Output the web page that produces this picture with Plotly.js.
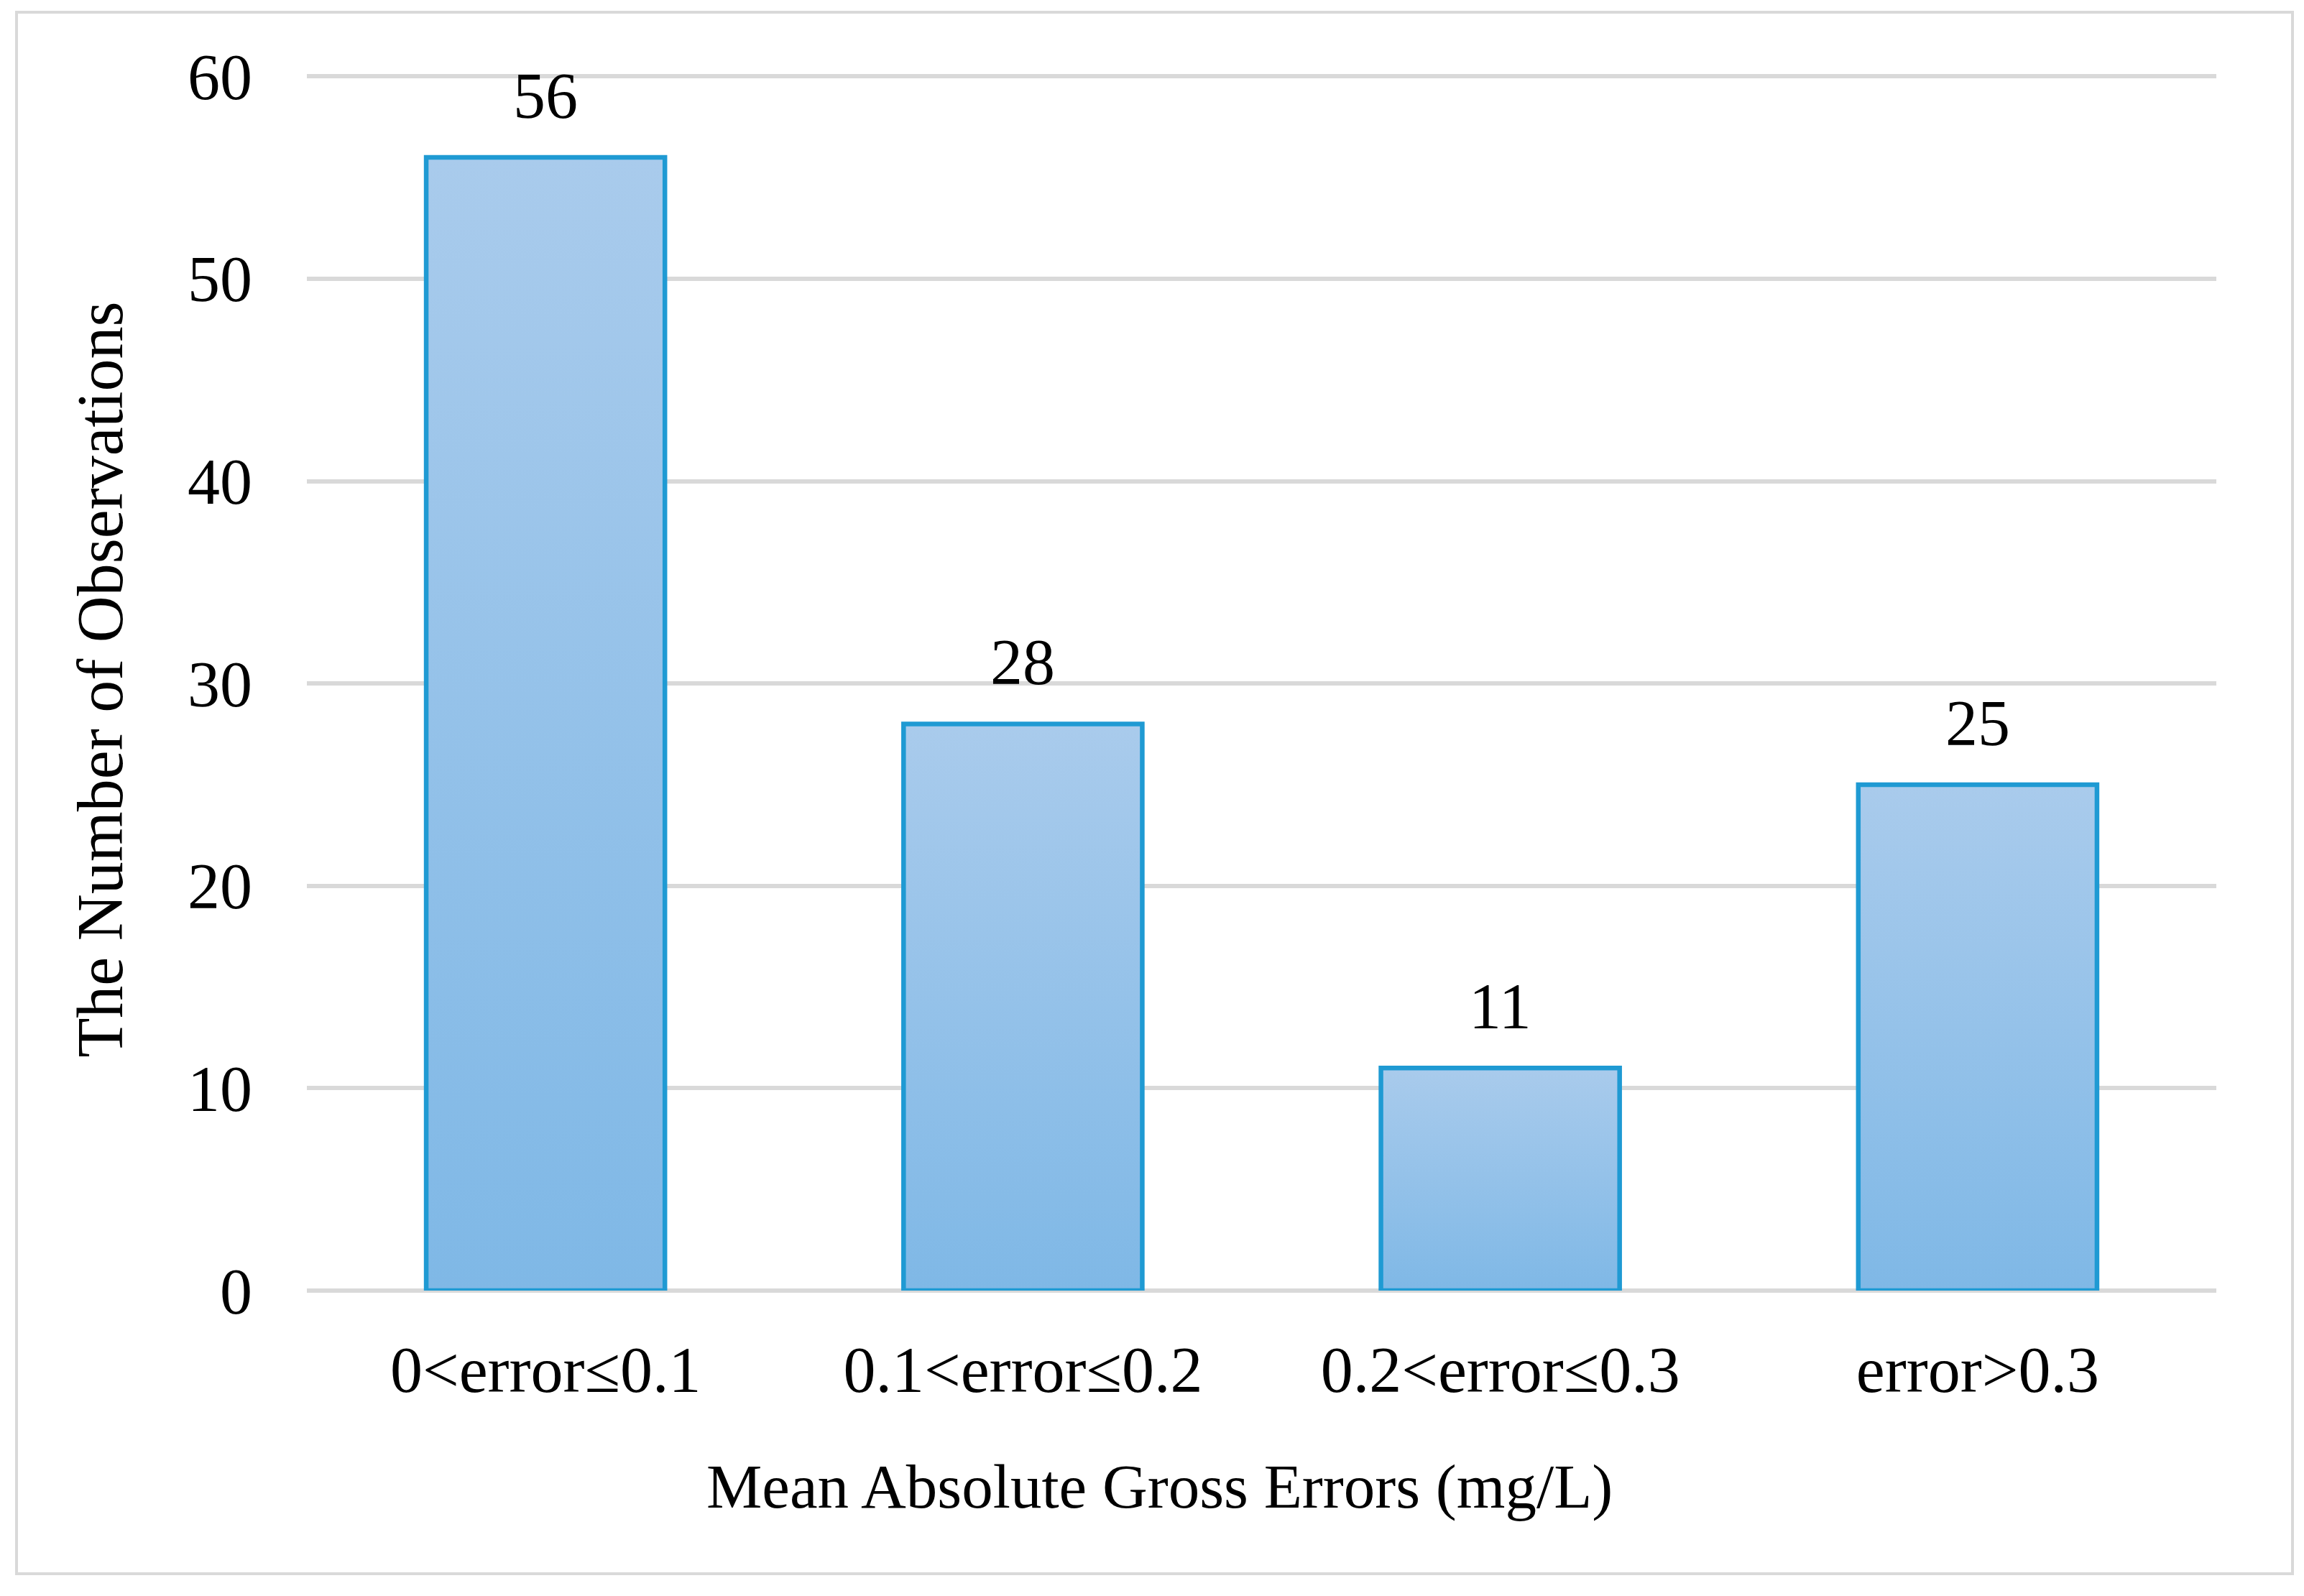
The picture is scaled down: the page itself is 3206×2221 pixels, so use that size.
<!DOCTYPE html>
<html>
<head>
<meta charset="utf-8">
<script src="https://cdn.plot.ly/plotly-3.0.1.min.js"></script>
<style>
  html, body { margin: 0; padding: 0; background: #ffffff; }
  #frame { position: absolute; left: 21px; top: 15px; width: 3163px; height: 2169px; border: 4px solid #d9d9d9; box-sizing: content-box; pointer-events: none; z-index: 2; }
  #chart { position: absolute; left: 0; top: 0; width: 3206px; height: 2221px; z-index: 1; }
</style>
</head>
<body>
<div id="chart"></div>
<div id="frame"></div>
<script>
const categories = ["0<error≤0.1", "0.1<error≤0.2", "0.2<error≤0.3", "error>0.3"];
const counts = [56, 28, 11, 25];
const yTickValues = [0, 10, 20, 30, 40, 50, 60];
const xTitle = "Mean Absolute Gross Errors (mg/L)";
const yTitle = "The Number of Observations";

const esc = s => s.replace(/&/g, "&amp;").replace(/</g, "&lt;").replace(/>/g, "&gt;");
const FONT = "Liberation Serif, Times New Roman, serif";
const GRAD_TOP = "#a9cbec";
const GRAD_BOTTOM = "#7fb8e6";

const trace = {
  type: "bar",
  x: categories,
  y: counts,
  marker: {
    color: "#94c1e9",
    line: { color: "#1f9ad3", width: 6.5 }
  },
  hoverinfo: "x+y"
};

const annotations = categories.map((c, i) => ({
  x: c, y: counts[i], xref: "x", yref: "y",
  text: String(counts[i]),
  showarrow: false,
  yanchor: "bottom",
  yshift: 34,
  font: { family: FONT, size: 90, color: "#000000" }
}));

annotations.push({
  xref: "paper", yref: "paper",
  x: 0.4464, y: -0.16,
  xanchor: "center", yanchor: "middle",
  text: esc(xTitle),
  showarrow: false,
  font: { family: FONT, size: 87, color: "#000000" }
});

const layout = {
  width: 3206, height: 2221,
  margin: { l: 427, r: 122, t: 95, b: 425, pad: 0 },
  paper_bgcolor: "rgba(0,0,0,0)",
  plot_bgcolor: "rgba(0,0,0,0)",
  bargap: 0.5,
  showlegend: false,
  font: { family: FONT, size: 90, color: "#000000" },
  xaxis: {
    type: "category",
    tickmode: "array",
    tickvals: categories,
    ticktext: categories.map(esc),
    ticks: "outside", ticklen: 32, tickcolor: "rgba(0,0,0,0)",
    showline: false, showgrid: false, zeroline: false,
    tickfont: { family: FONT, size: 90, color: "#000000" },
    automargin: false
  },
  yaxis: {
    range: [0, 60.4],
    tickmode: "array",
    tickvals: yTickValues,
    ticks: "outside", ticklen: 57, tickcolor: "rgba(0,0,0,0)",
    showline: false,
    showgrid: true, gridcolor: "#d9d9d9", gridwidth: 6,
    zeroline: true, zerolinecolor: "#d9d9d9", zerolinewidth: 6,
    tickfont: { family: FONT, size: 90, color: "#000000" },
    title: { text: yTitle, font: { family: FONT, size: 90, color: "#000000" }, standoff: 60 },
    automargin: false
  },
  annotations: annotations
};

Plotly.newPlot("chart", [trace], layout, { staticPlot: true, displayModeBar: false }).then(gd => {
  try {
    const NS = "http://www.w3.org/2000/svg";
    const svg = gd.querySelector("svg.main-svg");
    let defs = svg.querySelector("defs");
    if (!defs) { defs = document.createElementNS(NS, "defs"); svg.insertBefore(defs, svg.firstChild); }
    const lg = document.createElementNS(NS, "linearGradient");
    lg.setAttribute("id", "barGrad");
    lg.setAttribute("x1", "0"); lg.setAttribute("y1", "0");
    lg.setAttribute("x2", "0"); lg.setAttribute("y2", "1");
    [[0, GRAD_TOP], [1, GRAD_BOTTOM]].forEach(([o, c]) => {
      const s = document.createElementNS(NS, "stop");
      s.setAttribute("offset", String(o));
      s.setAttribute("stop-color", c);
      lg.appendChild(s);
    });
    defs.appendChild(lg);
    gd.querySelectorAll(".barlayer .point path").forEach(p => { p.style.fill = "url(#barGrad)"; });
  } catch (e) { /* keep solid fill */ }
});
</script>
</body>
</html>
